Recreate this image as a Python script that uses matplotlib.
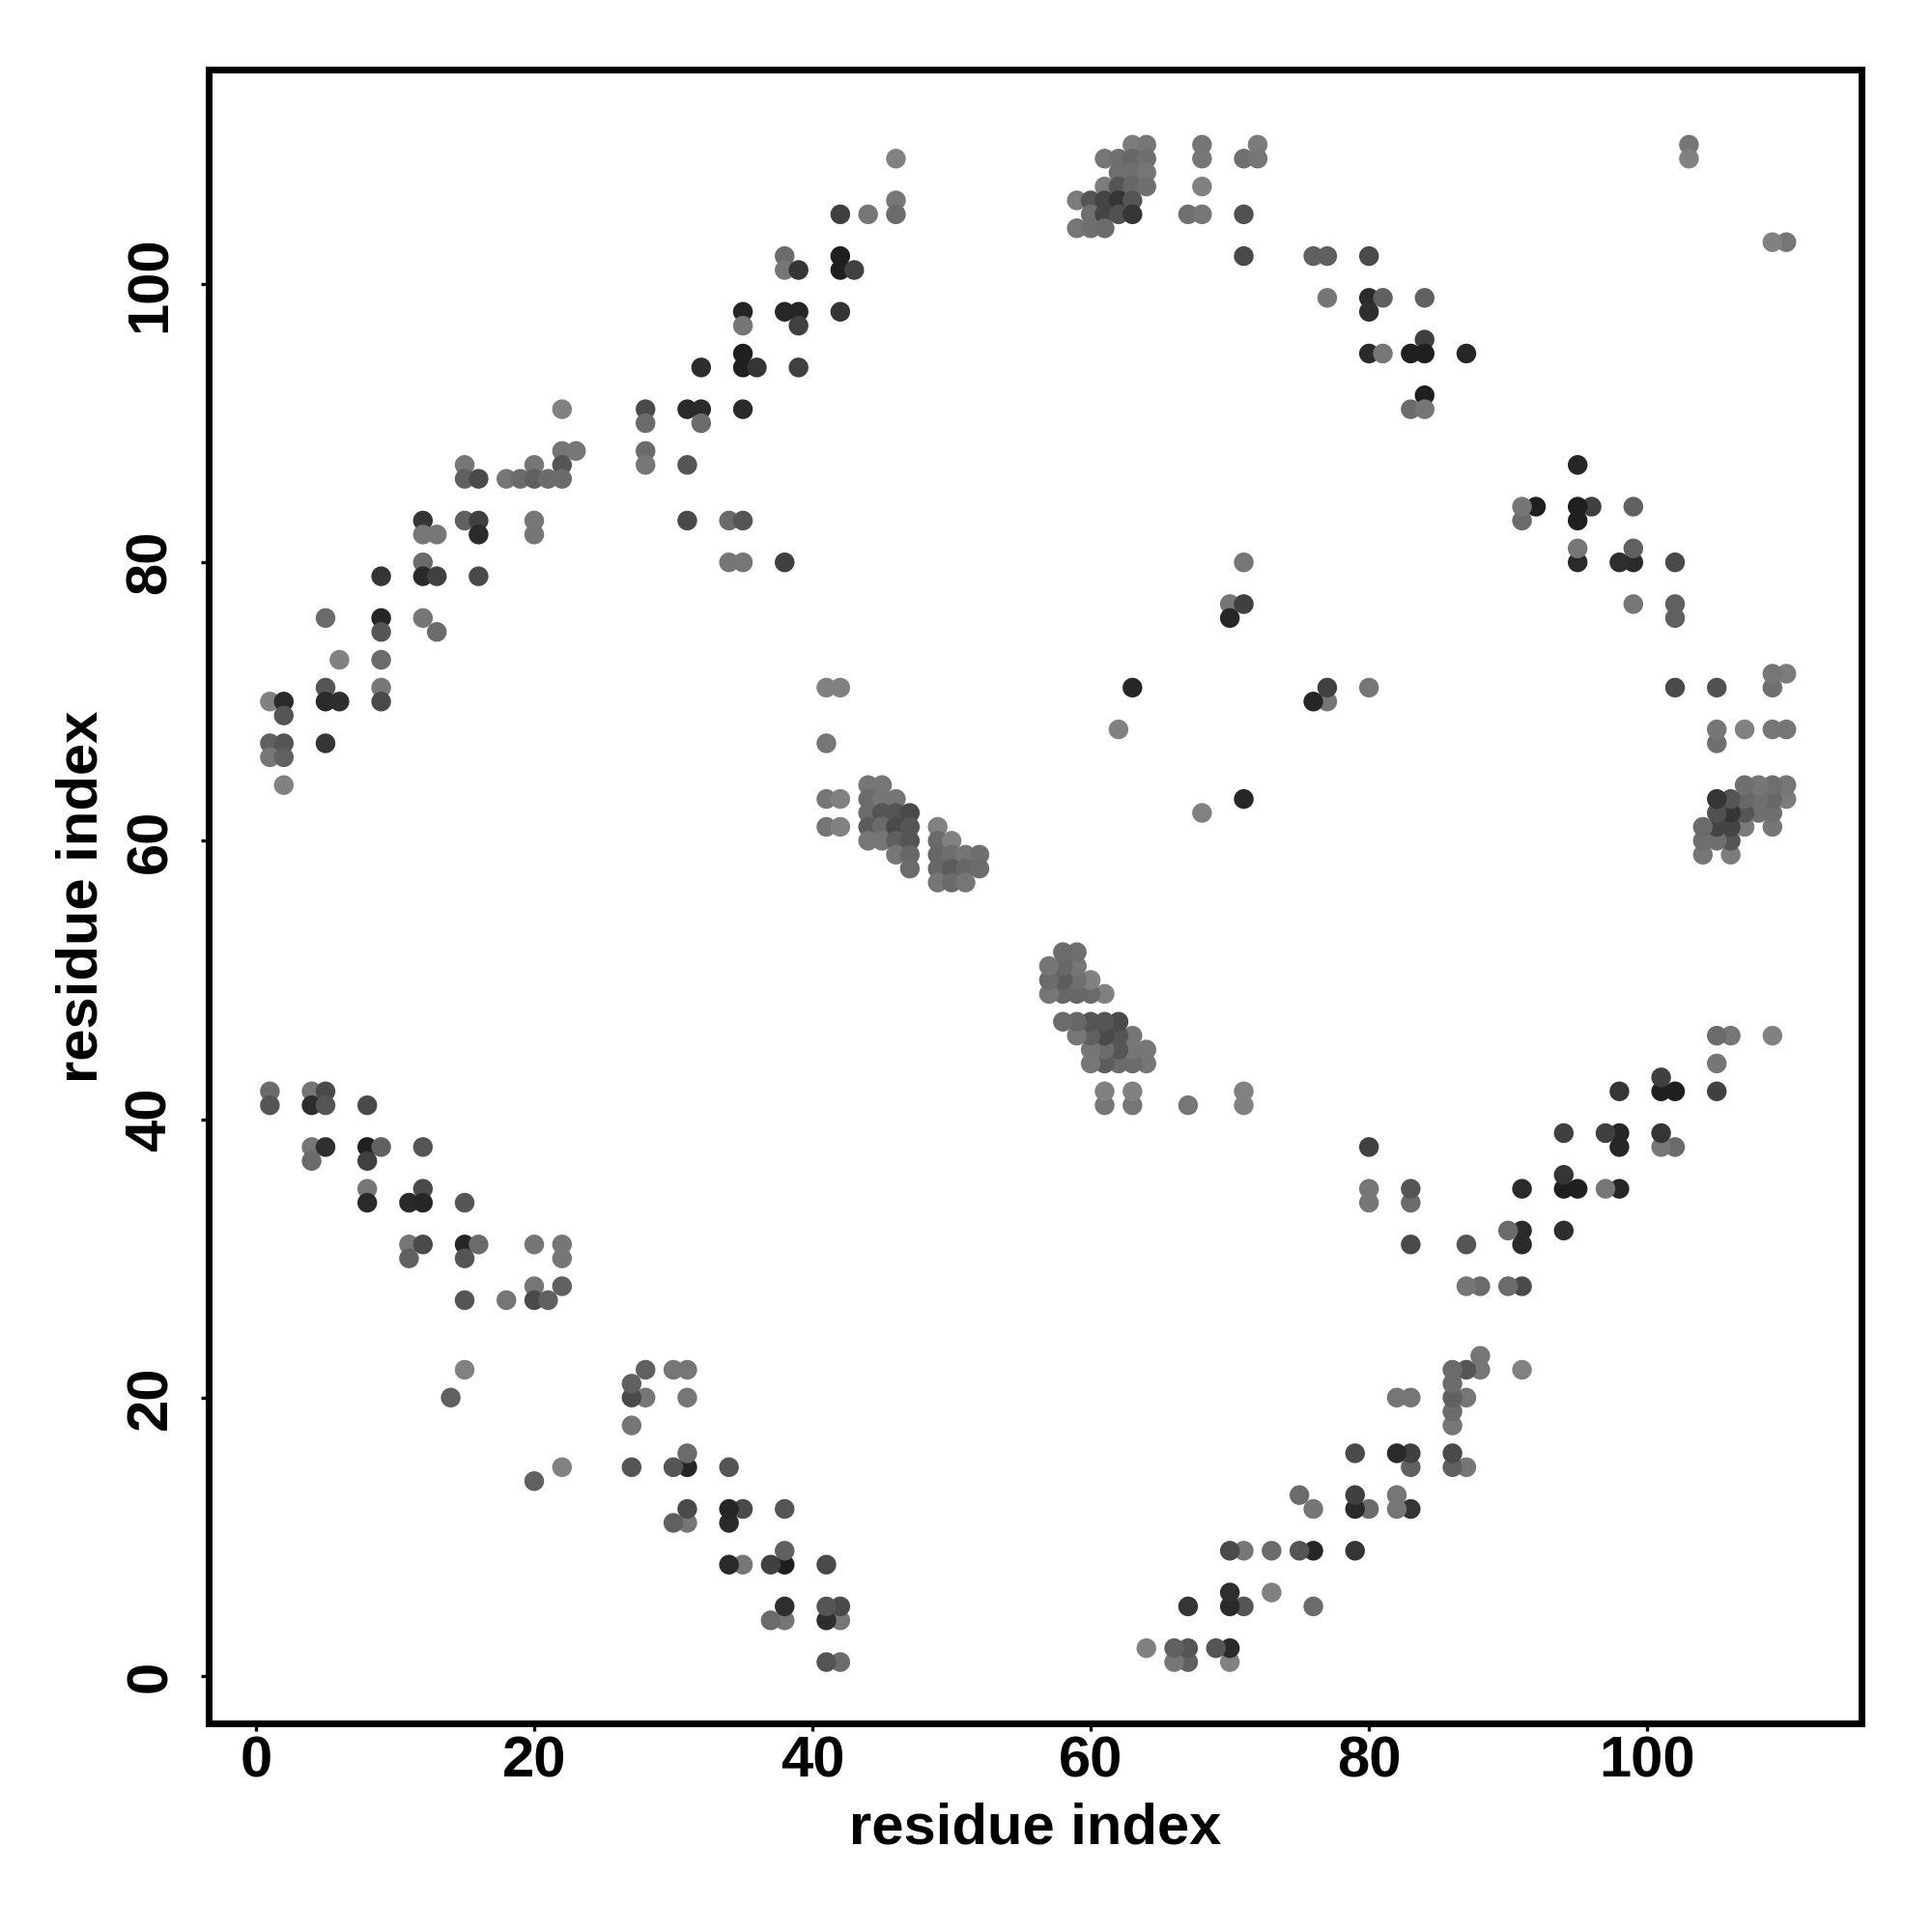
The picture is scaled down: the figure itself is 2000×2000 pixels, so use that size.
import matplotlib
matplotlib.use("Agg")
import matplotlib.pyplot as plt

plt.rcParams["font.family"] = ["Liberation Sans", "DejaVu Sans"]
plt.rcParams["font.weight"] = "bold"

# contact map is symmetric, so only residue i < residue j is listed
arc_i = [1,1,1,2,2,2,2,2,5,5,5,5,6,6,9,9,9,9,9,9,12,12,12,12,12,13,13,13,15,15,15,16,16,16,16,18,19,20,20,20,20,21,22,22,22,22,23,
         28,28,28,28,31,31,31,32,32,32,34,34,35,35,35,35,35,35,35,36,38,38,38,38,39,39,39,39,42,42,42,42,43,44,46,46,46]
arc_j = [70,67,66,70,69,67,66,64,76,71,70,67,73,70,79,76,75,73,71,70,83,82,80,79,76,82,79,75,87,86,83,86,83,82,79,86,86,87,86,83,82,86,91,88,87,86,88,
         91,90,88,87,91,87,83,94,91,90,83,80,98,97,95,94,91,83,80,94,102,101,98,80,101,98,97,94,105,102,101,98,101,105,109,106,105]
arc_shade = [.5,.35,.45,.1,.3,.3,.35,.5,.4,.3,.1,.15,.5,.12,.15,.08,.3,.4,.45,.25,.15,.45,.4,.1,.45,.45,.2,.4,.45,.35,.35,.25,.2,.1,.25,.45,.4,.45,.35,.45,.45,.4,.5,.45,.3,.4,.45,
             .25,.4,.4,.45,.1,.3,.25,.12,.1,.4,.4,.45,.08,.45,.05,.05,.1,.3,.45,.15,.4,.45,.08,.2,.15,.08,.2,.2,.2,.05,.05,.15,.2,.45,.5,.45,.4]

# bottom-left anti-diagonal
anti_i = [1,1,4,4,5,5,4,4,5,8,8,8,9,8,8,12,12,11,12,11,11,12,15,15,16,15,15,18,20,20,20,21,22,22,22,15,14]
anti_j = [42,41,42,41,42,41,38,37,38,41,38,37,38,35,34,38,35,34,34,31,30,31,34,31,31,30,27,27,31,28,27,27,31,30,28,22,20]
anti_shade = [.4,.3,.45,.12,.25,.3,.45,.4,.12,.25,.05,.2,.35,.45,.1,.3,.25,.1,.08,.45,.35,.25,.3,.08,.4,.3,.3,.45,.45,.45,.25,.35,.45,.45,.35,.5,.35]

# clusters in the middle of the map
mid_i = [41,42,41,41,42,41,42,
         44,45,44,45,46,44,45,46,47,44,45,46,47,44,45,46,47,46,47,47,
         49,49,50,49,50,51,52,49,50,51,52,49,50,51,
         62,63,70,70,71,71]
mid_j = [71,71,67,63,63,61,61,
         64,64,63,63,63,62,62,62,62,61,61,61,61,60,60,60,60,59,59,58,
         61,60,60,59,59,59,59,58,58,58,58,57,57,57,
         68,71,77,76,80,77]
mid_shade = [.5,.5,.45,.45,.5,.45,.5,
             .45,.45,.4,.45,.45,.4,.3,.3,.25,.33,.4,.25,.3,.45,.45,.35,.3,.45,.38,.4,
             .5,.4,.5,.38,.42,.45,.42,.38,.33,.38,.4,.45,.4,.45,
             .5,.08,.45,.08,.45,.2]

# top cluster and top-right arc
top_i = [63,64,68,72,61,62,63,64,68,71,72,62,63,64,61,62,63,64,68,59,60,61,62,63,60,61,62,63,67,68,71,59,60,61,71,
         76,77,77,80,80,80,81,80,81,83,84,84,84,84,83,84,87,103,103]
top_j = [110,110,110,110,109,109,109,109,109,109,109,108,108,108,107,107,107,107,107,106,106,106,106,106,105,105,105,105,105,105,105,104,104,104,102,
         102,102,99,102,99,98,99,95,95,95,99,96,95,92,91,91,95,110,109]
top_shade = [.48,.45,.45,.48,.45,.42,.38,.42,.45,.42,.45,.42,.42,.45,.48,.3,.38,.42,.5,.48,.3,.22,.15,.3,.42,.22,.28,.15,.42,.45,.28,.45,.42,.4,.25,
             .35,.35,.45,.25,.1,.12,.35,.1,.45,.05,.35,.2,.05,.05,.4,.45,.08,.45,.5]

tick_values = [0, 20, 40, 60, 80, 100]

res_i = arc_i + anti_i + mid_i + top_i
res_j = arc_j + anti_j + mid_j + top_j
shades = arc_shade + anti_shade + mid_shade + top_shade
# the reference greys sit a little lighter than the first reading
colors = [str(round(0.85 * s + 0.08, 3)) for s in shades]

fig = plt.figure(figsize=(10, 10), dpi=200)
ax = fig.add_axes([0.108, 0.108, 0.8555, 0.856])

ax.scatter(res_i, res_j, s=54, c=colors, linewidths=0)
ax.scatter(res_j, res_i, s=54, c=colors, linewidths=0)

ax.set_xlim(-3.4, 115.4)
ax.set_ylim(-3.4, 115.4)
ax.set_xticks(tick_values)
ax.set_yticks(tick_values)
ax.tick_params(axis="both", length=3, width=1.2, labelsize=21.5)
ax.tick_params(axis="x", pad=1.5)
ax.tick_params(axis="y", pad=8.5)
for label in ax.get_yticklabels():
    label.set_rotation(90)
    label.set_va("center")
for spine in ax.spines.values():
    spine.set_linewidth(2.5)

ax.set_xlabel("residue index", fontsize=21.5, fontweight="bold", labelpad=5)
ax.set_ylabel("residue index", fontsize=21.5, fontweight="bold", labelpad=6)

fig.savefig("out.png")
